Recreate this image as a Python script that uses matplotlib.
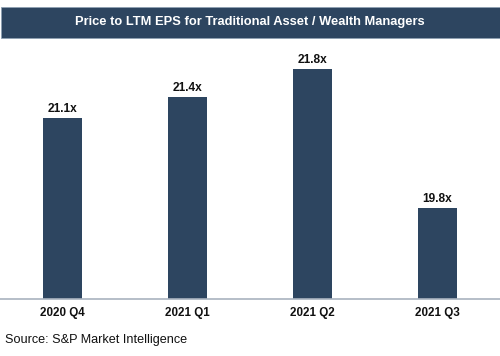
import matplotlib
matplotlib.use("Agg")
import matplotlib.pyplot as plt
from matplotlib.patches import Rectangle

categories = ["2020 Q4", "2021 Q1", "2021 Q2", "2021 Q3"]
values = [21.1, 21.4, 21.8, 19.8]
labels = ["21.1x", "21.4x", "21.8x", "19.8x"]
title = "Price to LTM EPS for Traditional Asset / Wealth Managers"
source = "Source: S&P Market Intelligence"

navy = "#2D4560"
plt.rcParams['font.family'] = ['Liberation Sans', 'DejaVu Sans']

fig = plt.figure(figsize=(5.0, 3.56), dpi=100)
ax = fig.add_axes([0.0, 1 - 299/356, 1.0, (299 - 51)/356])

x = list(range(len(categories)))
ax.bar(x, values, width=0.312, color=navy)
ax.set_ylim(18.49, 22.06)
ax.set_xlim(-0.5, 3.5)
for xi, v, lab in zip(x, values, labels):
    ax.annotate(lab, (xi, v), xytext=(0, 2), textcoords="offset points",
                ha="center", va="bottom", fontsize=8.6, fontweight="bold", color="#111111")

for s in ["top", "right", "left"]:
    ax.spines[s].set_visible(False)
ax.spines["bottom"].set_color("#A9B3BF")
ax.spines["bottom"].set_linewidth(1.2)
ax.set_yticks([])
ax.set_xticks(x)
ax.set_xticklabels(categories, fontsize=8.4, fontweight="bold", color="#111111")
ax.tick_params(axis="x", length=0, pad=6)

fig.patches.append(Rectangle((0.002, 1 - 38/356), 0.998, 31/356, transform=fig.transFigure,
                             facecolor=navy, edgecolor="#8FA0B2", linewidth=0.6, zorder=0))
fig.text(0.5, 1 - 22.5/356, title, ha="center", va="center", color="white",
         fontsize=9.3, fontweight="bold")
fig.text(5/500, 1 - 340.5/356, source, ha="left", va="center", color="#111111", fontsize=9.1)

fig.savefig("out.png", dpi=100)
